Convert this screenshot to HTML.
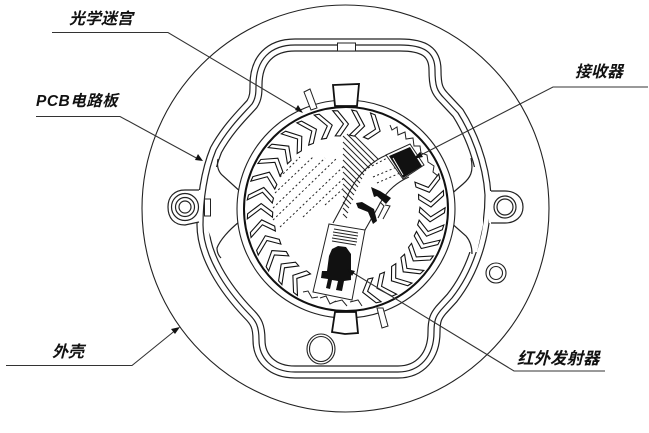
<!DOCTYPE html>
<html><head><meta charset="utf-8"><style>
html,body{margin:0;padding:0;background:#fff;width:649px;height:433px;overflow:hidden}
svg{display:block}
text{font-family:"Liberation Sans","Noto Sans CJK SC",sans-serif;font-weight:700;font-style:italic;fill:#111}
</style></head><body>
<svg width="649" height="433" viewBox="0 0 649 433" xmlns="http://www.w3.org/2000/svg">
<defs>
<polygon id="c" points="-10,-98 1,-85 -7,-73 -12,-73 -4,-85 -15,-98" fill="#fff" stroke="#111" stroke-width="1.100"/>
<path id="h" d="M345,45 L400,45 C424,45 435,52 435,70 C435,86 437,91 444,98 L458,113 C470,132 483,162 485,195 C485,225 478,265 452,298 L441,310 C436,316 434,320 434,332 C434,356 420,372 398,372 L295,372 C272,372 259,358 259,340 C259,326 256,321 249,314 C224,288 203,255 203,225 C203,200 207,172 216,150 C228,128 245,112 252,104 C256,98 256,92 256,85 C256,60 270,45 295,45 Z"/>
</defs>
<rect width="649" height="433" fill="#fff"/>
<circle cx="345.500" cy="208.500" r="203.500" fill="none" stroke="#222" stroke-width="1.100"/>
<!-- housing triple line -->
<g fill="none" stroke-linejoin="round">
<use href="#h" stroke="#222" stroke-width="13.200"/>
<use href="#h" stroke="#fff" stroke-width="10.800"/>
<use href="#h" stroke="#222" stroke-width="1.200"/>
</g>
<!-- cut inner line at sides -->
<polygon points="214,167 208,190 206,225 212,240 218,252 245,252 245,167" fill="#fff"/>
<polygon points="450,167 476,167 483,190 483,225 477,252 450,252" fill="#fff"/>
<g fill="none" stroke="#222" stroke-width="1.200">
<path d="M218,159 Q216,169 222,175 L243,194"/>
<path d="M239,222 C229,230 220,240 217,248 Q217,254 221,258"/>
<path d="M471,158 C474,172 470,178 463,184 L449,196"/>
<path d="M449,221 L466,236 Q472,243 472,254"/>
</g>
<!-- ears -->
<path d="M202,190 L185,190 C174,190 168,197 168,207 C168,218 174,225 185,225 L201,222 Z" fill="#fff"/>
<path d="M199,190 L185,190 C174,190 168,197 168,207 C168,218 174,225 185,225 L199,222" fill="none" stroke="#222" stroke-width="1.200"/>
<g fill="none" stroke="#222" stroke-width="1.200"><circle cx="185" cy="207" r="13.500"/><circle cx="185" cy="207" r="9.500"/><circle cx="185" cy="207" r="6"/></g>
<path d="M489,191 L505,191 C515,191 523,197 523,207 C523,217 515,223 505,223 L489,223 Z" fill="#fff"/>
<path d="M491,191 L505,191 C515,191 523,197 523,207 C523,217 515,223 505,223 L491,223" fill="none" stroke="#222" stroke-width="1.200"/>
<g fill="none" stroke="#222" stroke-width="1.200"><circle cx="505" cy="207" r="11"/><circle cx="505" cy="207" r="8"/></g>
<rect x="337.500" y="43" width="18" height="8" fill="#fff" stroke="#222" stroke-width="1"/>
<rect x="204.500" y="199" width="6" height="17" fill="#fff" stroke="#222" stroke-width="1"/>
<g fill="#fff" stroke="#222" stroke-width="1.100">
<ellipse cx="321" cy="349" rx="14" ry="15"/><ellipse cx="321" cy="349" rx="11.500" ry="12.500"/>
<circle cx="496" cy="273" r="10"/><circle cx="496" cy="273" r="6.500"/>
</g>
<!-- main circle -->
<circle cx="346" cy="209" r="109" fill="#fff" stroke="#222" stroke-width="1.100"/>
<polygon points="304,92 310,89 317,108 311,110" fill="#fff" stroke="#222" stroke-width="1"/>
<polygon points="377,308 383,308 388,326 382,328" fill="#fff" stroke="#222" stroke-width="1"/>
<polygon points="333,85 359,84 357,106 335,106" fill="#fff" stroke="#111" stroke-width="1.800"/>
<polygon points="335,312 332,332 345,334 358,333 356,312" fill="#fff" stroke="#111" stroke-width="1.800"/>
<circle cx="346" cy="209" r="102" fill="#fff" stroke="#111" stroke-width="2"/>
<!-- stripes -->
<g stroke="#222" stroke-width="1" fill="none">
<path d="M352,133 L378,159M347,134 L375,162M343,136 L372,165M343,142 L369,168M343,148 L366,171M343,154 L364,175M343,160 L362,179M343,166 L360,183M343,172 L358,187M343,178 L356,191M343,184 L354,195M343,190 L353,200M343,196 L351,204M343,202 L349,208M343,208 L348,213M343,214 L347,218"/>
</g>
<!-- chevrons -->
<g transform="translate(346 209)">
<use href="#c" transform="rotate(218)"/><use href="#c" transform="rotate(229)"/><use href="#c" transform="rotate(240)"/><use href="#c" transform="rotate(251)"/><use href="#c" transform="rotate(262)"/><use href="#c" transform="rotate(273)"/><use href="#c" transform="rotate(284)"/><use href="#c" transform="rotate(295)"/><use href="#c" transform="rotate(306)"/><use href="#c" transform="rotate(317)"/><use href="#c" transform="rotate(328)"/><use href="#c" transform="rotate(339)"/><use href="#c" transform="rotate(350)"/><use href="#c" transform="rotate(1)"/><use href="#c" transform="rotate(12)"/><use href="#c" transform="rotate(23)"/>
<use href="#c" transform="rotate(78)"/><use href="#c" transform="rotate(88)"/><use href="#c" transform="rotate(98)"/><use href="#c" transform="rotate(108)"/><use href="#c" transform="rotate(117)"/><use href="#c" transform="rotate(127)"/><use href="#c" transform="rotate(137)"/><use href="#c" transform="rotate(147)"/><use href="#c" transform="rotate(158)"/><use href="#c" transform="rotate(168)"/>
</g>
<!-- teeth -->
<g fill="none" stroke="#222" stroke-width="1">
<path d="M390,125 L392,130 L397,127 L398,135 L405,132 L406,139 L413,138 L414,146 L420,146 L421,153 L427,155 L428,162 L434,166 L433,172 L438,176"/>
<path d="M303,292 L308,291 L312,298 L318,297 M320,298 L326,296 L330,304 L336,301 M334,302 L342,300 L347,306 M350,302 L358,300 L362,306"/>
</g>
<!-- dashed -->
<g stroke="#222" stroke-width="1" fill="none" stroke-dasharray="2 2.500">
<path d="M280,177 L300,157M275,193 L313,157M273,208 L325,158M273,220 L337,158M280,227 L345,165M303,217 L345,177M325,205 L345,187"/>
<path d="M368,168 L393,155M373,177 L397,167M377,183 L400,173"/>
</g>
<!-- band -->
<g fill="none" stroke="#222" stroke-width="1.100">
<path d="M333,223 L347,197 C355,178 370,160 392,153"/>
<path d="M365,230 L378,207 C385,193 395,183 409,177"/>
</g>
<!-- wedges -->
<path d="M371,187 L380,191 L391,198 L386,204 L377,196 L374,197 Z" fill="#111"/>
<path d="M356,203 L362,202 L374,209 L377,221 L373,224 L368,212 L358,208 Z" fill="#111"/>
<path d="M380,202 L384,206 L378,218 M385,205 L390,206 L383,219" fill="none" stroke="#222"/>
<!-- receiver -->
<polygon points="386,155 410,144 424,165 403,179" fill="#fff" stroke="#222" stroke-width="1"/>
<polygon points="389,156 410,147 422,166 403,178" fill="#111"/>
<path d="M393,158 L403,175" stroke="#fff" stroke-width="1"/>
<!-- emitter -->
<polygon points="329,224 365,230 352,300 313,292" fill="#fff" stroke="#222" stroke-width="1"/>
<g stroke="#222" stroke-width="1"><path d="M334,229 L358,233M333,232 L358,236M333,235 L357,239M332,238 L357,242M332,241 L356,245"/></g>
<polygon points="329,256 332,249 338,246 346,247 351,254 351,280 344,281 342,291 336,290 338,281 332,280 330,289 326,288 328,279 321,278 322,271 327,271" fill="#111"/>
<!-- leaders -->
<g fill="none" stroke="#333" stroke-width="1.100">
<path d="M52,32.500 L168,32.500 L300,111"/>
<path d="M36,116.500 L120,116.500 L200,160"/>
<path d="M648,87 L553,87 L417,157"/>
<path d="M6,365.500 L132,365.500 L177,329"/>
<path d="M605,371 L514,371 L350,271"/>
</g>
<g fill="#111">
<polygon points="303,113 295,110 298,105"/>
<polygon points="203,161 195,160 198,154"/>
<polygon points="413,159 420,152 423,157"/>
<polygon points="180,327 175,334 171,329"/>
<polygon points="347,269 355,271 352,276"/>
</g>
<!-- labels -->
<text x="69" y="24" font-size="16">光学迷宫</text>
<text x="36" y="106" font-size="15.500" letter-spacing=".5">PCB电路板</text>
<text x="575" y="77" font-size="16">接收器</text>
<text x="52" y="357" font-size="16">外壳</text>
<text x="517" y="364" font-size="16.500">红外发射器</text>
</svg>
</body></html>
